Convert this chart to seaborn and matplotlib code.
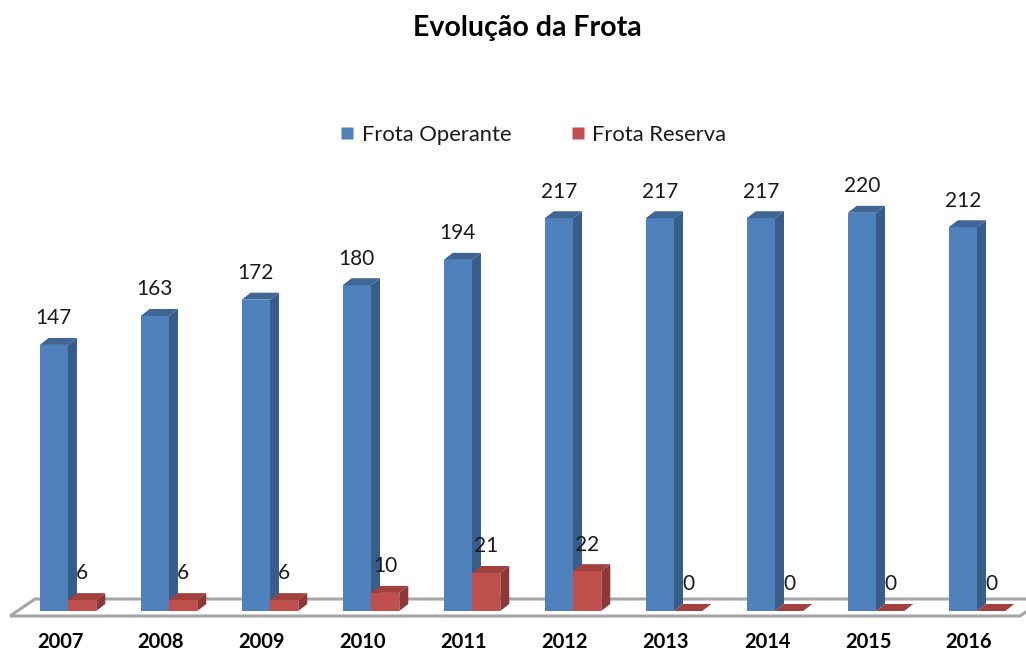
import matplotlib
matplotlib.use("Agg")
import matplotlib.pyplot as plt
import matplotlib.transforms as mtransforms
from matplotlib.patches import Polygon
from matplotlib.lines import Line2D
import seaborn as sns
import pandas as pd

years = ["2007", "2008", "2009", "2010", "2011", "2012", "2013", "2014", "2015", "2016"]
operante = [147, 163, 172, 180, 194, 217, 217, 217, 220, 212]
reserva = [6, 6, 6, 10, 21, 22, 0, 0, 0, 0]
series_names = ["Frota Operante", "Frota Reserva"]
title = "Evolução da Frota"

front_colors = ["#4f81bd", "#c0504d"]
side_colors = ["#385d8a", "#8c3836"]
top_colors = ["#3f6796", "#a0413e"]

df = pd.DataFrame({
    "year": years * 2,
    "series": [series_names[0]] * len(years) + [series_names[1]] * len(years),
    "value": operante + reserva,
})

sns.set_theme(style="white")
plt.rcParams["font.family"] = ["Lato", "DejaVu Sans"]

W, H = 1026, 659
fig = plt.figure(figsize=(W / 100, H / 100), dpi=100)
base_px = 611
top_px = 150
ax = fig.add_axes([0, (H - base_px) / H, 1, (base_px - top_px) / H])

sns.barplot(data=df, x="year", y="value", hue="series", palette=front_colors,
            width=0.56, saturation=1, ax=ax, legend=False, edgecolor="none")

ax.set_xlim(-0.673, 9.485)
ax.set_ylim(0, (base_px - top_px) / 1.81)
for s in ax.spines.values():
    s.set_visible(False)
ax.set_xlabel("")
ax.set_ylabel("")
ax.set_yticks([])
ax.tick_params(axis="x", length=0, pad=15)
ax.set_xticks(range(len(years)))
ax.set_xticklabels(years, fontsize=14.5, fontweight="bold", color="#000000")
shift = mtransforms.ScaledTranslation(-8 / 100, 0, fig.dpi_scale_trans)
for lab in ax.get_xticklabels():
    lab.set_transform(lab.get_transform() + shift)

# pixel -> data scales
fig.canvas.draw()
inv = ax.transData.inverted()
p0 = inv.transform((0, 0))
p1 = inv.transform((9, 7))
ddx = p1[0] - p0[0]
ddy = p1[1] - p0[1]

# floor
f_front = inv.transform(ax.transData.transform((0, 0)) + (0, -5))[1]
f_back = inv.transform(ax.transData.transform((0, 0)) + (0, 12))[1]
fx0 = inv.transform((10, 0))[0]
fx1 = inv.transform((W - 6, 0))[0]
fdx = inv.transform((25, 0))[0] - inv.transform((0, 0))[0]
floor = Polygon([(fx0, f_front), (fx1, f_front), (fx1 + fdx, f_back), (fx0 + fdx, f_back)],
                closed=True, facecolor="none", edgecolor="#a6a6a6", linewidth=2.2,
                zorder=1, clip_on=False)
ax.add_patch(floor)

for k, cont in enumerate(ax.containers):
    z = 2 + k
    for rect in cont.patches:
        rect.set_zorder(z)
        x0 = rect.get_x()
        w = rect.get_width()
        h = rect.get_height()
        side = Polygon([(x0 + w, 0), (x0 + w + ddx, ddy), (x0 + w + ddx, h + ddy), (x0 + w, h)],
                       closed=True, facecolor=side_colors[k], edgecolor="none", zorder=z, clip_on=False)
        top = Polygon([(x0, h), (x0 + ddx, h + ddy), (x0 + w + ddx, h + ddy), (x0 + w, h)],
                      closed=True, facecolor=top_colors[k], edgecolor="none", zorder=z, clip_on=False)
        ax.add_patch(side)
        ax.add_patch(top)
    ax.bar_label(cont, labels=[str(int(v)) for v in cont.datavalues], padding=12,
                 fontsize=15, color="#1a1a1a", zorder=5)

fig.text(527 / W, 1 - 28 / H, title, ha="center", va="center", fontsize=20.5,
         fontweight="bold", color="#000000")

handles = [Line2D([], [], marker="s", linestyle="none", markersize=8,
                  markerfacecolor=c, markeredgecolor="none") for c in front_colors]
fig.legend(handles, series_names, loc="center", bbox_to_anchor=(533 / W, 1 - 135 / H),
           ncol=2, frameon=False, fontsize=15.8, handletextpad=0.3, columnspacing=2.7,
           handlelength=0.7, labelcolor="#1a1a1a")

fig.savefig("out.png", dpi=100, facecolor="white")
